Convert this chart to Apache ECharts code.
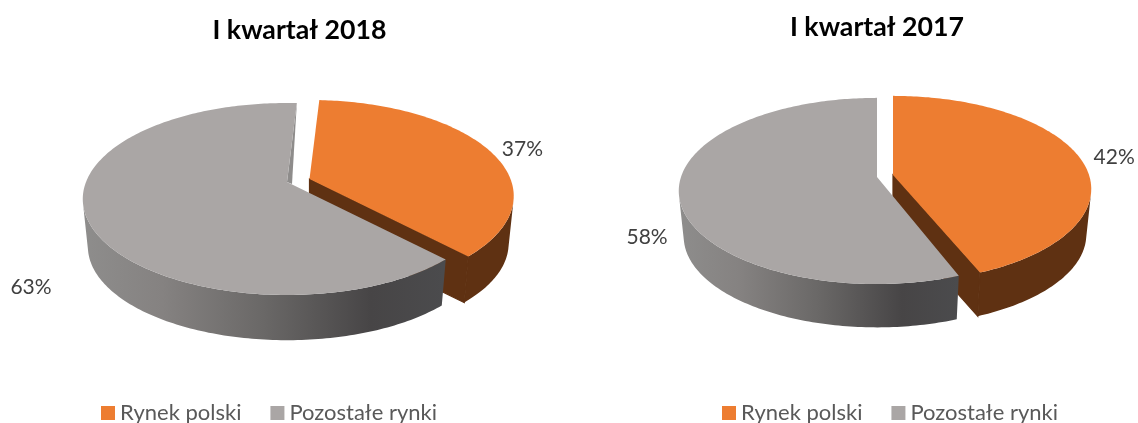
<!DOCTYPE html>
<html>
<head>
<meta charset="utf-8">
<style>html,body{margin:0;padding:0;background:#fff}#c{width:1138px;height:423px}</style>
<script src="https://cdn.jsdelivr.net/npm/echarts@6/dist/echarts.min.js"></script>
</head>
<body>
<div id="c"></div>
<script>
const categories = ['Rynek polski', 'Pozostałe rynki'];
const titles = ['I kwartał 2018', 'I kwartał 2017'];
const values2018 = [37, 63];
const values2017 = [42, 58];

const TOP = ['#ED7D31', '#AAA6A5'];
const BROWN = '#5F3112';
const FONT = 'Lato, "Open Sans", sans-serif';

// Projection settings of the two tilted pies (layout only)
const pies = [
  { values: values2018, start: 3.3, warp: [0, 0], k: 0.177, rx: 201, ry: 93, depth: 48, scale: 0.975,
    centers: [[309.5, 179], [287, 182]], labelOffset: [[35, 0], [-55, 71]], notch: [5, 2], wallX: [83, 443] },
  { values: values2017, start: 0, warp: [-7.5, -9.2], k: 0.15, rx: 196, ry: 91, depth: 46, scale: 0.975,
    centers: [[893, 175], [877, 177]], labelOffset: [[43, 9], [-35, 29]], notch: null, wallX: [678, 958] }
];

function rad(d) { return d * Math.PI / 180; }
function project(p, c, deg, scale, depth) {
  const u = Math.sin(rad(deg)), v = -Math.cos(rad(deg)), w = 1 - p.k * v;
  return [c[0] + scale * p.rx * u / w, c[1] + depth + scale * p.ry * v / w];
}
function warped(p, sweepDeg, si) {
  return p.start + sweepDeg + p.warp[si] * Math.sin(rad(2 * sweepDeg));
}
function arc(p, c, a0, a1, scale, depth, step) {
  const pts = [], n = Math.ceil(Math.abs(a1 - a0) / step);
  for (let i = 0; i <= n; i++) pts.push(project(p, c, a0 + (a1 - a0) * i / n, scale, depth));
  return pts;
}
function quadArea(a, b, c, d) {
  const q = [a, b, c, d];
  let s = 0;
  for (let i = 0; i < 4; i++) {
    const m = q[i], n = q[(i + 1) % 4];
    s += m[0] * n[1] - n[0] * m[1];
  }
  return s;
}
// The side wall folds over at the pie's extremes: keep only the run facing the viewer.
function frontWall(top, bot) {
  const runs = [];
  let from = 0, sign = 0;
  for (let i = 0; i + 1 < top.length; i++) {
    const s = Math.sign(quadArea(top[i], top[i + 1], bot[i + 1], bot[i]));
    if (sign !== 0 && s !== 0 && s !== sign) { runs.push([from, i]); from = i; }
    if (s !== 0) sign = s;
  }
  runs.push([from, top.length - 1]);
  let best = runs[0], bestY = -Infinity;
  runs.forEach(r => {
    const y = Math.max.apply(null, bot.slice(r[0], r[1] + 1).map(q => q[1]));
    if (y > bestY) { bestY = y; best = r; }
  });
  return top.slice(best[0], best[1] + 1).concat(bot.slice(best[0], best[1] + 1).reverse());
}
function renderSlice(pieIdx, sliceIdx) {
  return function (params, api) {
    const p = pies[pieIdx];
    const total = p.values.reduce((a, b) => a + b, 0);
    const value = api.value(0);
    let before = 0;
    for (let i = 0; i < sliceIdx; i++) before += p.values[i];
    const s0 = before / total * 360, s1 = (before + value) / total * 360;
    const a0 = warped(p, s0, sliceIdx), a1 = warped(p, s1, sliceIdx);
    const c = p.centers[sliceIdx];
    const topArc = arc(p, c, a0, a1, 1, 0, 1);
    const botArc = arc(p, c, a0, a1, p.scale, p.depth, 1);
    const apex = c, apexB = [c[0], c[1] + p.depth];
    const children = [];
    const wallFill = sliceIdx === 0 ? BROWN : new echarts.graphic.LinearGradient(
      p.wallX[0], 0, p.wallX[1], 0,
      [{ offset: 0, color: '#8E8D8C' }, { offset: 0.22, color: '#858281' }, { offset: 0.5, color: '#6A6867' },
       { offset: 0.8, color: '#474546' }, { offset: 1, color: '#4B4B4D' }], true);
    children.push({ type: 'polygon', shape: { points: frontWall(topArc, botArc) }, style: { fill: wallFill } });
    if (sliceIdx === 0) {
      children.push({ type: 'polygon',
        shape: { points: [apex, topArc[topArc.length - 1], botArc[botArc.length - 1], apexB] },
        style: { fill: BROWN, stroke: BROWN, lineWidth: 1.2 } });
    }
    if (sliceIdx === 1 && p.notch) {
      children.push({ type: 'polygon',
        shape: { points: [topArc[topArc.length - 1], apex, [apex[0] + p.notch[0], apex[1] + p.notch[1]]] },
        style: { fill: '#8E8C8B' } });
    }
    children.push({ type: 'polygon', shape: { points: [apex].concat(topArc) }, style: { fill: TOP[sliceIdx] } });
    const mid = project(p, c, warped(p, (s0 + s1) / 2, sliceIdx), 1, 0);
    const off = p.labelOffset[sliceIdx];
    children.push({
      type: 'text',
      style: { text: value + '%', x: mid[0] + off[0], y: mid[1] + off[1], fill: '#404040',
               font: '21px ' + FONT, textAlign: 'center', textVerticalAlign: 'middle' }
    });
    return { type: 'group', children: children };
  };
}

const series = [];
pies.forEach((p, pi) => {
  categories.forEach((name, si) => {
    series.push({
      type: 'custom', coordinateSystem: 'none', name: name, silent: true, animation: false,
      itemStyle: { color: TOP[si] },
      renderItem: renderSlice(pi, si),
      data: [[p.values[si]]]
    });
  });
});

const legendBase = { orient: 'horizontal', icon: 'rect', itemWidth: 14, itemHeight: 14, itemGap: 29, data: categories,
  padding: 0, selectedMode: false, formatter: n => n,
  textStyle: { fontFamily: FONT, fontSize: 22, color: '#595959' } };

const chart = echarts.init(document.getElementById('c'), null, { renderer: 'canvas' });
chart.setOption({
  animation: false,
  backgroundColor: '#fff',
  title: [
    { text: titles[0], left: 299.5, top: 17, textAlign: 'center', padding: 0,
      textStyle: { fontFamily: FONT, fontSize: 26.7, fontWeight: 'bold', color: '#000' } },
    { text: titles[1], left: 877, top: 14, textAlign: 'center', padding: 0,
      textStyle: { fontFamily: FONT, fontSize: 26.7, fontWeight: 'bold', color: '#000' } }
  ],
  legend: [
    Object.assign({ left: 101, top: 402 }, legendBase),
    Object.assign({ left: 722, top: 402 }, legendBase)
  ],
  series: series
});
</script>
</body>
</html>
